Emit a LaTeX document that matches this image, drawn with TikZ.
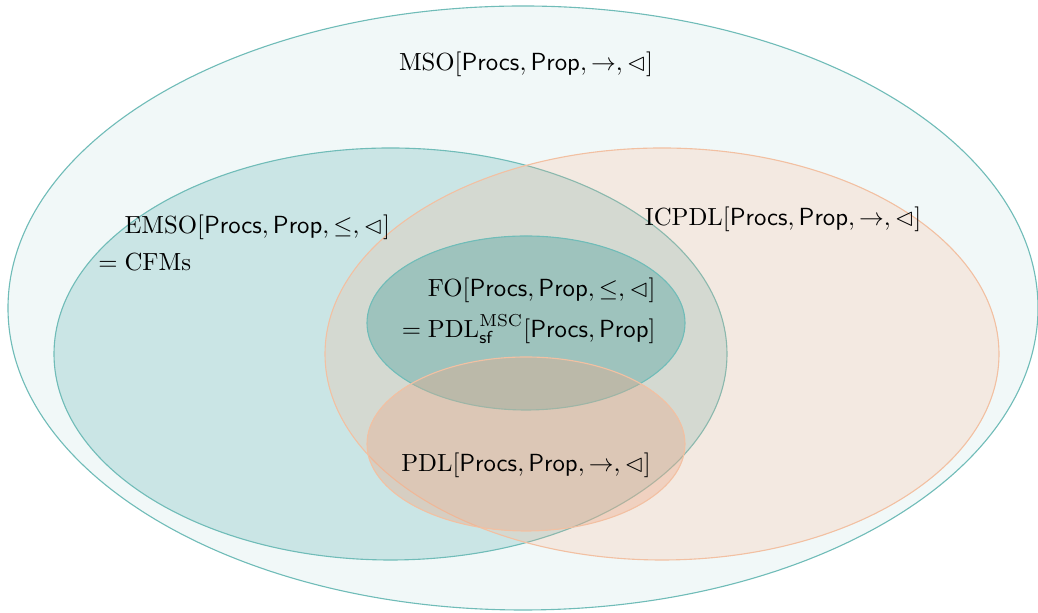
\documentclass[tikz,border=0pt]{standalone}
\usepackage{amsmath,amssymb}
\definecolor{tealc}{RGB}{0,128,128}
\definecolor{tealline}{RGB}{112,188,184}
\definecolor{orangec}{RGB}{251,172,132}
\definecolor{orangedk}{RGB}{234,170,138}
\definecolor{orangeline}{RGB}{242,192,162}
\tikzset{
  tset/.style={draw=tealline, line width=0.45pt, fill=tealc},
  oset/.style={draw=orangeline, line width=0.45pt},
  lab/.style={inner sep=0pt, text=black}
}
\newcommand{\Sig}[1]{[\mathsf{Procs},\mathsf{Prop},#1]}
\begin{document}
\begin{tikzpicture}[x=0.4037pt, y=-0.4037pt]
\useasboundingbox (0,0) rectangle (1038,613);
% MSO
\path[tset, fill opacity=0.055] (523,308) ellipse [x radius=515, y radius=302];
% EMSO
\path[tset, fill opacity=0.16] (390.5,354) ellipse [x radius=336.5, y radius=206];
% ICPDL
\path[oset, fill=orangec, fill opacity=0.2] (662,354) ellipse [x radius=337, y radius=206];
% FO
\path[tset, fill opacity=0.25] (526,323) ellipse [x radius=159, y radius=87];
% PDL
\path[oset, fill=orangedk, fill opacity=0.38] (526,444) ellipse [x radius=159, y radius=87];

\node[lab] (mso) at (526,64) {$\mathrm{MSO}\Sig{\rightarrow,\lhd}$};
\node[lab, anchor=west] (emso) at (98,246) {$\begin{aligned} &\mathrm{EMSO}\Sig{\leq,\lhd}\\ ={}&\mathrm{CFMs}\end{aligned}$};
\node[lab] (icpdl) at (783,219) {$\mathrm{ICPDL}\Sig{\rightarrow,\lhd}$};
\node[lab, anchor=east] (fo) at (656,311) {$\begin{aligned} &\mathrm{FO}\Sig{\leq,\lhd}\\ ={}&\mathrm{PDL}^{\mathrm{MSC}}_{\mathsf{sf}}[\mathsf{Procs},\mathsf{Prop}]\end{aligned}$};
\node[lab] (pdl) at (526,465) {$\mathrm{PDL}\Sig{\rightarrow,\lhd}$};
\end{tikzpicture}
\end{document}
